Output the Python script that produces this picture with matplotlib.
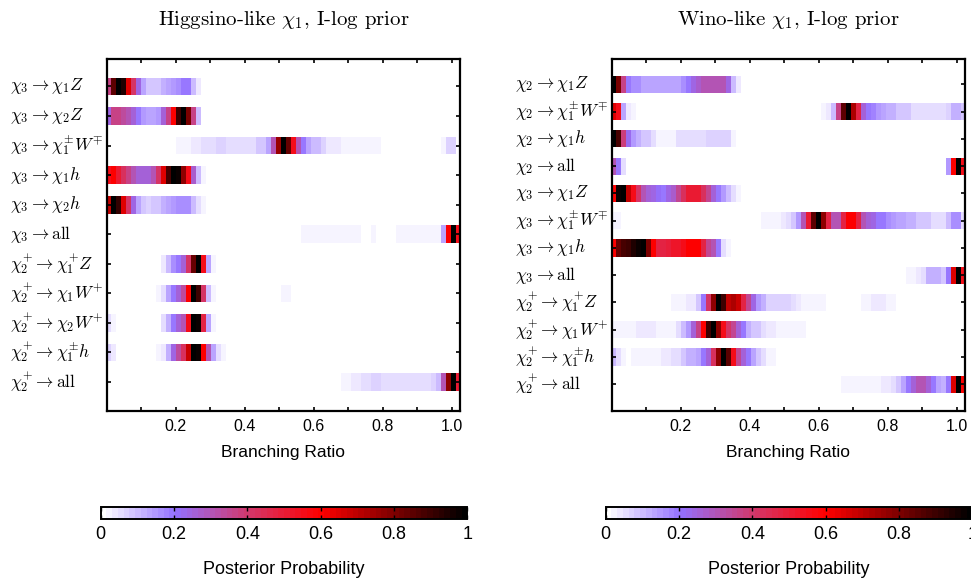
import matplotlib
matplotlib.use("Agg")
import matplotlib.pyplot as plt
import numpy as np
from matplotlib.colors import LinearSegmentedColormap, Normalize
from matplotlib.transforms import blended_transform_factory

plt.rcParams["font.family"] = "Liberation Sans"
plt.rcParams["mathtext.fontset"] = "cm"

# ---- data: branching-ratio bins (71 bins of width 1/69, first one clipped at 0)
N_BINS = 71
BIN_W = 1.0 / 69
BIN_OFF = 0.013

x_ticks = [0.2, 0.4, 0.6, 0.8, 1.0]
x_minor = [0.1, 0.3, 0.5, 0.7, 0.9]
cb_ticks = [0, 0.2, 0.4, 0.6, 0.8, 1.0]
cb_ticklabels = ["0", "0.2", "0.4", "0.6", "0.8", "1"]

# Higgsino-like chi_1 panel
labels_higgsino = [
    r"$\chi_3 \rightarrow \chi_1 Z$",
    r"$\chi_3 \rightarrow \chi_2 Z$",
    r"$\chi_3 \rightarrow \chi_1^{\pm} W^{\mp}$",
    r"$\chi_3 \rightarrow \chi_1 h$",
    r"$\chi_3 \rightarrow \chi_2 h$",
    r"$\chi_3 \rightarrow \mathrm{all}$",
    r"$\chi_2^{+} \rightarrow \chi_1^{+} Z$",
    r"$\chi_2^{+} \rightarrow \chi_1 W^{+}$",
    r"$\chi_2^{+} \rightarrow \chi_2 W^{+}$",
    r"$\chi_2^{+} \rightarrow \chi_1^{\pm} h$",
    r"$\chi_2^{+} \rightarrow \mathrm{all}$",
]
# each row: list of (first bin, posterior values)
rows_higgsino = [
    [(0, [0.37, 0.85, 1.0, 0.95, 0.65, 0.42, 0.24, 0.13, 0.09, 0.08, 0.09, 0.11,
          0.14, 0.15, 0.17, 0.19, 0.19, 0.1, 0.04])],
    [(0, [0.24, 0.36, 0.36, 0.34, 0.3, 0.26, 0.2, 0.15, 0.14, 0.14, 0.15, 0.26,
          0.37, 0.6, 0.9, 1.0, 0.8, 0.37, 0.1])],
    [(0, [0.01]),
     (14, [0.02, 0.02, 0.02, 0.04, 0.04, 0.06, 0.06, 0.06, 0.07, 0.07,
           0.05, 0.05, 0.05, 0.05, 0.05, 0.05, 0.08, 0.08,
           0.14, 0.3, 0.75, 1.0, 0.83, 0.55, 0.3, 0.2, 0.14, 0.1, 0.1, 0.07,
           0.04, 0.04, 0.04, 0.02, 0.02, 0.02, 0.02, 0.02, 0.02, 0.02, 0.02]),
     (67, [0.02, 0.07, 0.07])],
    [(0, [0.55, 0.6, 0.5, 0.43, 0.37, 0.3, 0.26, 0.25, 0.25, 0.3, 0.42, 0.65,
          0.88, 1.0, 0.98, 0.78, 0.55, 0.28, 0.1, 0.02])],
    [(0, [0.7, 1.0, 0.92, 0.65, 0.42, 0.24, 0.13, 0.08, 0.07, 0.08, 0.09, 0.11,
          0.14, 0.15, 0.17, 0.17, 0.17, 0.1, 0.05, 0.02])],
    [(39, [0.02] * 12), (53, [0.02]),
     (58, [0.02] * 9 + [0.14, 0.6, 1.0, 0.55])],
    [(11, [0.04, 0.1, 0.17, 0.2, 0.26, 0.42, 0.83, 1.0, 0.55, 0.14, 0.02])],
    [(10, [0.02, 0.06, 0.14, 0.2, 0.26, 0.34, 0.6, 1.0, 0.9, 0.42, 0.1, 0.02]),
     (35, [0.02, 0.02])],
    [(0, [0.05, 0.02]),
     (11, [0.06, 0.12, 0.2, 0.25, 0.3, 0.55, 1.0, 0.98, 0.47, 0.14, 0.02])],
    [(0, [0.07, 0.04]),
     (10, [0.02, 0.04, 0.12, 0.24, 0.34, 0.43, 0.68, 1.0, 0.97, 0.6, 0.3, 0.14,
           0.06, 0.03])],
    [(47, [0.02, 0.02, 0.04, 0.04, 0.05, 0.05, 0.07, 0.07] + [0.06] * 10
     + [0.07, 0.1, 0.3, 0.78, 1.0, 0.5])],
]

# Wino-like chi_1 panel
labels_wino = [
    r"$\chi_2 \rightarrow \chi_1 Z$",
    r"$\chi_2 \rightarrow \chi_1^{\pm} W^{\mp}$",
    r"$\chi_2 \rightarrow \chi_1 h$",
    r"$\chi_2 \rightarrow \mathrm{all}$",
    r"$\chi_3 \rightarrow \chi_1 Z$",
    r"$\chi_3 \rightarrow \chi_1^{\pm} W^{\mp}$",
    r"$\chi_3 \rightarrow \chi_1 h$",
    r"$\chi_3 \rightarrow \mathrm{all}$",
    r"$\chi_2^{+} \rightarrow \chi_1^{+} Z$",
    r"$\chi_2^{+} \rightarrow \chi_1 W^{+}$",
    r"$\chi_2^{+} \rightarrow \chi_1^{\pm} h$",
    r"$\chi_2^{+} \rightarrow \mathrm{all}$",
]
rows_wino = [
    [(0, [1.0, 0.8, 0.37, 0.2, 0.17, 0.16, 0.14, 0.13, 0.13, 0.13, 0.13, 0.13,
          0.13, 0.14, 0.17, 0.2, 0.24, 0.27, 0.3, 0.3, 0.31, 0.31, 0.3, 0.24,
          0.1, 0.04])],
    [(0, [0.65, 0.55, 0.14, 0.04, 0.02]),
     (42, [0.02, 0.04, 0.1, 0.37, 0.85, 1.0, 0.72, 0.48, 0.26, 0.2, 0.18, 0.15,
           0.14, 0.11, 0.11, 0.08, 0.08, 0.08, 0.06, 0.05, 0.05, 0.05, 0.05,
           0.05, 0.05, 0.07, 0.11, 0.11, 0.08])],
    [(0, [1.0, 0.88, 0.38, 0.23, 0.15, 0.11, 0.09, 0.08, 0.06, 0.03, 0.03, 0.03,
          0.03, 0.05, 0.05, 0.05, 0.05, 0.05, 0.05, 0.07, 0.07, 0.07, 0.07,
          0.07, 0.03])],
    [(0, [0.3, 0.2, 0.06]), (67, [0.15, 0.6, 1.0, 0.55])],
    [(0, [0.6, 0.97, 1.0, 0.7, 0.55, 0.42, 0.3, 0.26, 0.24, 0.21, 0.2, 0.24,
          0.27, 0.35, 0.43, 0.5, 0.5, 0.5, 0.43, 0.35, 0.26, 0.2, 0.15, 0.1,
          0.06, 0.02])],
    [(0, [0.02, 0.02]),
     (30, [0.02, 0.02, 0.02, 0.02, 0.04, 0.06, 0.09, 0.15, 0.3, 0.5, 0.85, 1.0,
           0.78, 0.47, 0.3, 0.3, 0.48, 0.6, 0.6, 0.48, 0.3, 0.26, 0.24, 0.2,
           0.2, 0.17, 0.15, 0.14, 0.13, 0.11, 0.11, 0.08, 0.08, 0.08, 0.06,
           0.06, 0.06, 0.1, 0.17, 0.17, 0.06])],
    [(0, [0.6, 0.83, 0.88, 0.9, 0.95, 0.98, 1.0, 0.8, 0.6, 0.48, 0.47, 0.49,
          0.52, 0.53, 0.56, 0.6, 0.6, 0.6, 0.47, 0.35, 0.3, 0.2, 0.06, 0.02])],
    [(59, [0.02, 0.02, 0.04, 0.06, 0.11, 0.11, 0.11, 0.08, 0.2, 0.65, 1.0, 0.55])],
    [(12, [0.02, 0.02, 0.02, 0.04, 0.04, 0.09, 0.2, 0.42, 0.78, 1.0, 0.9, 0.7,
           0.72, 0.68, 0.48, 0.35, 0.24, 0.15, 0.11, 0.07, 0.07, 0.07, 0.07,
           0.07, 0.06, 0.04, 0.02, 0.02, 0.02, 0.02, 0.02]),
     (50, [0.02, 0.02, 0.04, 0.04, 0.04, 0.02, 0.02])],
    [(0, [0.02] * 5 + [0.04] * 4 + [0.02] * 4
      + [0.06, 0.1, 0.15, 0.26, 0.37, 0.6, 0.9, 1.0, 0.78, 0.55, 0.42, 0.35,
         0.26, 0.2, 0.12, 0.09, 0.08, 0.06, 0.04, 0.04] + [0.02] * 6)],
    [(0, [0.1, 0.06, 0.02, 0.0] + [0.02] * 6
      + [0.04, 0.04, 0.06, 0.06, 0.08, 0.11, 0.11, 0.14, 0.2, 0.26, 0.43, 0.78,
         1.0, 0.85, 0.55, 0.35, 0.26, 0.2, 0.14, 0.09, 0.06, 0.02, 0.02])],
    [(46, [0.02] * 8 + [0.04, 0.04, 0.06, 0.09, 0.14, 0.2, 0.26, 0.3, 0.3, 0.26,
                        0.2, 0.13, 0.11, 0.2, 0.65, 1.0, 0.6])],
]

titles = [r"Higgsino-like $\chi_1$, I-log prior", r"Wino-like $\chi_1$, I-log prior"]

cmap = LinearSegmentedColormap.from_list(
    "post", [(0.0, "#ffffff"), (0.2, "#9370ff"), (0.4, "#d2386c"),
             (0.6, "#ff0000"), (0.8, "#800000"), (1.0, "#000000")], N=64)
norm = Normalize(0, 1)


def expand(segments):
    vals = np.zeros(N_BINS)
    for start, v in segments:
        vals[start:start + len(v)] = v
    return vals


W, H = 971, 579
fig = plt.figure(figsize=(W / 100, H / 100), dpi=100)
edges = BIN_OFF + (np.arange(N_BINS + 1) - 1) * BIN_W

panels = [
    (labels_higgsino, rows_higgsino, 106.7, 0.6, 10),
    (labels_wino, rows_wino, 611.5, 0.63, 515),
]

for i, (labels, rows, x0, strip_h, lab_x) in enumerate(panels):
    ax = fig.add_axes([x0 / W, 1 - 410.7 / H, 353.5 / W, 351.7 / H])
    n = len(rows)
    for r, segs in enumerate(rows):
        vals = expand(segs)
        ax.pcolormesh(edges, [r - strip_h / 2, r + strip_h / 2], vals[np.newaxis, :],
                      cmap=cmap, norm=norm, shading="flat", antialiased=False,
                      edgecolors="none")
    ax.set_xlim(0, 1.024)
    ax.set_ylim(n - 1 + 0.97, -0.93)
    ax.set_xticks(x_ticks)
    ax.set_xticklabels([f"{t:.1f}" for t in x_ticks], fontsize=11.5)
    ax.set_xticks(x_minor, minor=True)
    ax.set_yticks(range(n))
    ax.set_yticklabels([])
    ax.tick_params(which="both", direction="in", top=True, right=True,
                   length=3, width=1.2, pad=6)
    for sp in ax.spines.values():
        sp.set_linewidth(1.6)
    tr = blended_transform_factory(fig.transFigure, ax.transData)
    for r, lab in enumerate(labels):
        ax.text(lab_x / W, r, lab, transform=tr, ha="left", va="center", fontsize=12.5)
    cx = x0 + 176.7
    fig.text(cx / W, 1 - 20 / H, titles[i], ha="center", va="center",
             fontsize=15, family="cmr10")
    fig.text(cx / W, 1 - 453 / H, "Branching Ratio", ha="center", va="center",
             fontsize=12.5)

    # colorbar
    cb_x0 = 100.7 if i == 0 else 605.7
    cax = fig.add_axes([cb_x0 / W, 1 - 519.3 / H, 366.6 / W, 12.6 / H])
    cb = fig.colorbar(plt.cm.ScalarMappable(norm=norm, cmap=cmap), cax=cax,
                      orientation="horizontal")
    cb.set_ticks(cb_ticks)
    cb.set_ticklabels(cb_ticklabels)
    cax.tick_params(direction="in", length=3, width=1, top=True, bottom=True,
                    labelsize=13, pad=5)
    cb.outline.set_linewidth(1.4)
    fig.text((cb_x0 + 183.3) / W, 1 - 570 / H, "Posterior Probability",
             ha="center", va="center", fontsize=13)

fig.savefig("out.png", dpi=100)
